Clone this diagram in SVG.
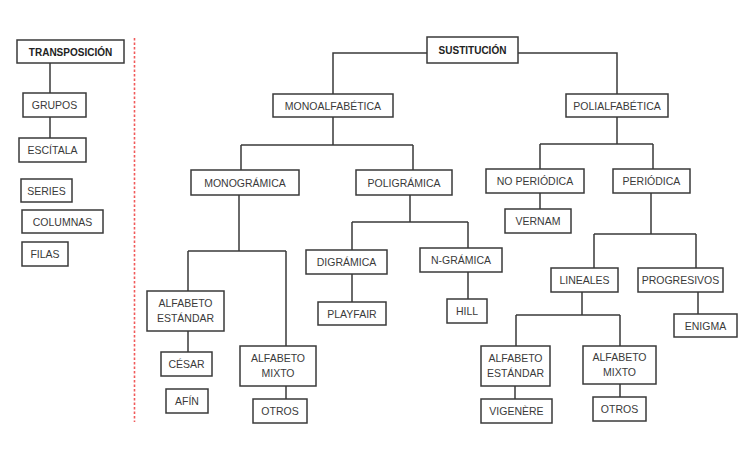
<svg xmlns="http://www.w3.org/2000/svg" width="751" height="454" viewBox="0 0 751 454">
<style>
rect.b{fill:#fff;stroke:#3a3a3a;stroke-width:1.5}
text{font-family:"Liberation Sans",Arial,sans-serif;font-size:10.5px;fill:#3a3a3a;text-anchor:middle}
text.h{font-weight:bold;font-size:10px;fill:#222}
#connectors path{fill:none;stroke:#3a3a3a;stroke-width:1.5}
</style>
<rect width="751" height="454" fill="#fff"/>
<line x1="134.5" y1="38" x2="134.5" y2="422" stroke="#f05a5a" stroke-width="1.6" stroke-dasharray="2.5,2"/>
<g id="connectors">
<path d="M50 63V93M50 117V138"/>
<path d="M427 53H333V94M518 53H617V94"/>
<path d="M333 117V145M241 145H413M241 145V170M413 145V170"/>
<path d="M239 195V251M188 251H286M188 251V291M286 251V346M188 331V352M286 386V399"/>
<path d="M410 195V222M352 222H468M352 222V250M468 222V248M352 274V302M468 272V299"/>
<path d="M617 117V144M540 144H653M540 144V169M653 144V169M540 193V209"/>
<path d="M651 193V234M594 234H696M594 234V268M696 234V268M698 292V314"/>
<path d="M582 292V315M516 315H620M516 315V346M620 315V346M515 386V399M620 384V397"/>
</g>
<g id="transposicion"><rect class="b" x="17" y="40" width="107" height="23"/><text class="h" x="70.5" y="55.5">TRANSPOSICIÓN</text></g>
<g id="grupos"><rect class="b" x="23" y="93" width="63" height="24"/><text x="54.5" y="109">GRUPOS</text></g>
<g id="escitala"><rect class="b" x="19" y="138" width="67" height="24"/><text x="52.5" y="154">ESCÍTALA</text></g>
<g id="series"><rect class="b" x="21" y="179" width="51" height="23"/><text x="46.5" y="194.5">SERIES</text></g>
<g id="columnas"><rect class="b" x="22" y="210" width="81" height="23"/><text x="62.5" y="225.5">COLUMNAS</text></g>
<g id="filas"><rect class="b" x="22" y="242" width="46" height="24"/><text x="45" y="258">FILAS</text></g>
<g id="sustitucion"><rect class="b" x="427" y="37" width="91" height="26"/><text class="h" x="472.5" y="54">SUSTITUCIÓN</text></g>
<g id="monoalfabetica"><rect class="b" x="273" y="94" width="120" height="23"/><text x="333" y="109.5">MONOALFABÉTICA</text></g>
<g id="polialfabetica"><rect class="b" x="566" y="94" width="102" height="23"/><text x="617" y="109.5">POLIALFABÉTICA</text></g>
<g id="monogramica"><rect class="b" x="191" y="170" width="108" height="25"/><text x="245" y="186.5">MONOGRÁMICA</text></g>
<g id="poligramica"><rect class="b" x="356" y="170" width="96" height="25"/><text x="404" y="186.5">POLIGRÁMICA</text></g>
<g id="alfabeto-estandar-1"><rect class="b" x="147" y="291" width="77" height="40"/><text x="185.5" y="307">ALFABETO</text><text x="185.5" y="322">ESTÁNDAR</text></g>
<g id="cesar"><rect class="b" x="161" y="352" width="51" height="24"/><text x="186.5" y="368">CÉSAR</text></g>
<g id="afin"><rect class="b" x="166" y="389" width="42" height="24"/><text x="187" y="405">AFÍN</text></g>
<g id="alfabeto-mixto-1"><rect class="b" x="240" y="346" width="76" height="40"/><text x="278" y="362">ALFABETO</text><text x="278" y="377">MIXTO</text></g>
<g id="otros-1"><rect class="b" x="253" y="399" width="54" height="24"/><text x="280" y="415">OTROS</text></g>
<g id="digramica"><rect class="b" x="306" y="250" width="81" height="24"/><text x="346.5" y="266">DIGRÁMICA</text></g>
<g id="n-gramica"><rect class="b" x="420" y="248" width="82" height="24"/><text x="461" y="264">N-GRÁMICA</text></g>
<g id="playfair"><rect class="b" x="318" y="302" width="68" height="23"/><text x="352" y="317.5">PLAYFAIR</text></g>
<g id="hill"><rect class="b" x="447" y="299" width="40" height="24"/><text x="467" y="315">HILL</text></g>
<g id="no-periodica"><rect class="b" x="486" y="169" width="98" height="24"/><text x="535" y="185">NO PERIÓDICA</text></g>
<g id="periodica"><rect class="b" x="613" y="169" width="77" height="24"/><text x="651.5" y="185">PERIÓDICA</text></g>
<g id="vernam"><rect class="b" x="505" y="209" width="66" height="24"/><text x="538" y="225">VERNAM</text></g>
<g id="lineales"><rect class="b" x="551" y="268" width="67" height="24"/><text x="584.5" y="284">LINEALES</text></g>
<g id="progresivos"><rect class="b" x="638" y="268" width="85" height="24"/><text x="680.5" y="284">PROGRESIVOS</text></g>
<g id="enigma"><rect class="b" x="674" y="314" width="63" height="23"/><text x="705.5" y="329.5">ENIGMA</text></g>
<g id="alfabeto-estandar-2"><rect class="b" x="481" y="346" width="69" height="40"/><text x="515.5" y="362">ALFABETO</text><text x="515.5" y="377">ESTÁNDAR</text></g>
<g id="alfabeto-mixto-2"><rect class="b" x="583" y="346" width="73" height="38"/><text x="619.5" y="361">ALFABETO</text><text x="619.5" y="376">MIXTO</text></g>
<g id="vigenere"><rect class="b" x="481" y="399" width="71" height="24"/><text x="516.5" y="415">VIGENÈRE</text></g>
<g id="otros-2"><rect class="b" x="593" y="397" width="53" height="24"/><text x="619.5" y="413">OTROS</text></g>
</svg>
